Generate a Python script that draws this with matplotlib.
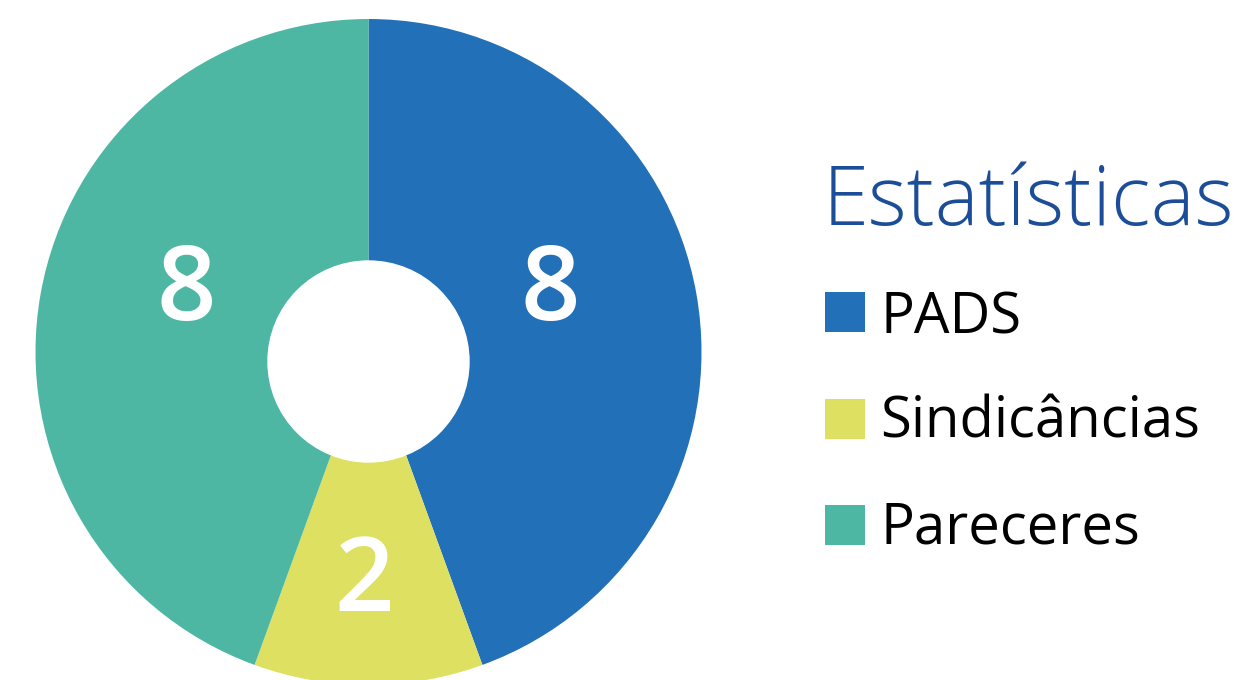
import matplotlib
matplotlib.use("Agg")
import matplotlib.pyplot as plt
from matplotlib.patches import Circle, Rectangle

categories = ["PADS", "Sindicâncias", "Pareceres"]
values = [8, 2, 8]
colors = ["#2270B8", "#DDE060", "#4EB7A4"]
title = "Estatísticas"

W, H = 1246, 680
fig = plt.figure(figsize=(W / 100, H / 100), dpi=100)

# pie axes: centre (368, 352) px, radius 333 px
cx, cy, R = 368.5, 352, 333
ax = fig.add_axes([(cx - R) / W, (H - cy - R) / H, 2 * R / W, 2 * R / H])
wedges, _ = ax.pie(values, colors=colors, startangle=90, counterclock=False,
                   radius=1, wedgeprops=dict(linewidth=0))
ax.set_xlim(-1, 1)
ax.set_ylim(-1, 1)
ax.set_aspect("equal")
ax.axis("off")

# hole (slightly below the pie centre, as in the reference)
ax.add_patch(Circle((0, -9.5 / R), 100.5 / R, color="white", zorder=5))

# value labels (layout positions in axes data units, baseline anchored)
label_xy = [(0.547, 0.096), (-0.012, -0.778), (-0.547, 0.096)]
for v, (x, y) in zip(values, label_xy):
    ax.text(x, y, str(v), ha="center", va="baseline", color="white",
            fontsize=75, family="Open Sans", fontweight="semibold", zorder=6)

# legend drawn manually
fig.text(823 / W, 1 - 225 / H, title, ha="left", va="baseline",
         fontsize=60, family="Open Sans", fontweight="light", color="#1B4D98")
box_tops = [292, 399, 505]
baselines = [333, 438, 544]
for cat, col, top, base in zip(categories, colors, box_tops, baselines):
    fig.patches.append(Rectangle((825 / W, 1 - (top + 40) / H), 40 / W, 40 / H,
                                 transform=fig.transFigure, facecolor=col,
                                 edgecolor="none", figure=fig))
    fig.text(880 / W, 1 - base / H, cat, ha="left", va="baseline",
             fontsize=40.5, family="Open Sans", color="black")

fig.savefig("out.png", dpi=100)
